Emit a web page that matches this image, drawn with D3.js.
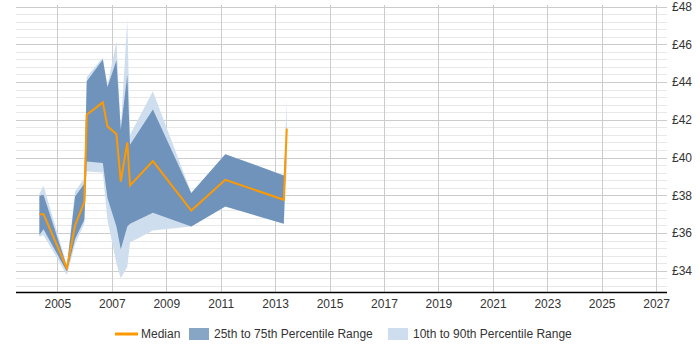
<!DOCTYPE html>
<html lang="en">
<head>
    <meta charset="UTF-8">
    <title>Rate</title>
    <script type="application/javascript" src="https://d3js.org/d3.v7.min.js"></script>
    <style>
        body { margin: 0; }
        text { font-family: "Liberation Sans", Arial, sans-serif; font-size: 12px; fill: #333; }
    </style>
</head>
<body>
<svg width="700" height="350"></svg>
<script type="application/javascript">
    // values (decimal years, pounds)
    var years  = [2004.34, 2004.49, 2005.35, 2005.65, 2005.99, 2006.08, 2006.67, 2006.84, 2007.17, 2007.33, 2007.57, 2007.67, 2008.51, 2009.92, 2011.17, 2013.32, 2013.43];
    var median = [37.0, 37.0, 34.14, 36.4, 37.64, 42.27, 42.92, 41.65, 41.25, 38.73, 40.8, 38.52, 39.81, 37.19, 38.82, 37.76, 41.53];
    var p25    = [35.9, 36.2, 33.96, 35.68, 36.7, 39.79, 39.71, 37.85, 36.34, 35.14, 36.34, 36.49, 37.07, 36.34, 37.41, 36.49, 41.4];
    var p75    = [37.97, 38.03, 34.22, 37.94, 38.61, 44.04, 45.19, 43.74, 45.14, 41.47, 44.4, 40.68, 42.54, 38.12, 40.18, 39.05, 41.7];
    var p10    = [35.8, 35.9, 33.78, 35.4, 36.5, 39.26, 39.21, 36.7, 34.4, 33.6, 34.22, 35.5, 36.13, 36.34, 37.41, 36.49, 39.5];
    var p90    = [38.08, 38.5, 34.3, 38.2, 38.9, 44.27, 45.3, 43.8, 46.16, 41.58, 47.3, 41.2, 43.51, 38.12, 40.18, 39.05, 43.07];

    var xTicks = d3.range(2005, 2028, 2);
    var yTicks = [34, 36, 38, 40, 42, 44, 46, 48];
    var legendLabels = ["Median", "25th to 75th Percentile Range", "10th to 90th Percentile Range"];

    var svg = d3.select("svg");
    var plotLeft = 16, plotRight = 667, plotTop = 6.5, plotBottom = 292.5;

    var data = years.map(function (t, i) {
        return {t: t, med: median[i], lo: p25[i], hi: p75[i], lo2: p10[i], hi2: p90[i]};
    });

    var x = d3.scaleLinear()
        .domain([2003.48, 2027.4])
        .range([plotLeft, plotRight]);
    var y = d3.scaleLinear()
        .domain([32.85, 48])
        .range([plotBottom, plotTop]);

    // minor + major horizontal grid
    var minor = d3.range(33.2, 48.01, 0.4);
    svg.append("g").selectAll("line")
        .data(minor)
        .enter().append("line")
        .attr("x1", plotLeft).attr("x2", plotRight)
        .attr("y1", function (d) { return Math.round(y(d)) + 0.5; })
        .attr("y2", function (d) { return Math.round(y(d)) + 0.5; })
        .attr("stroke", "#e8e8e8");
    svg.append("g").selectAll("line")
        .data(yTicks)
        .enter().append("line")
        .attr("x1", plotLeft).attr("x2", plotRight)
        .attr("y1", function (d) { return Math.round(y(d)) + 0.5; })
        .attr("y2", function (d) { return Math.round(y(d)) + 0.5; })
        .attr("stroke", "#cccccc");
    svg.append("g").selectAll("line")
        .data(xTicks)
        .enter().append("line")
        .attr("x1", function (d) { return Math.round(x(d)) + 0.5; })
        .attr("x2", function (d) { return Math.round(x(d)) + 0.5; })
        .attr("y1", 5).attr("y2", plotBottom)
        .attr("stroke", "#cccccc");

    // bands
    var outer = d3.area()
        .x(function (d) { return x(d.t); })
        .y0(function (d) { return y(d.lo2); })
        .y1(function (d) { return y(d.hi2); });
    var inner = d3.area()
        .x(function (d) { return x(d.t); })
        .y0(function (d) { return y(d.lo); })
        .y1(function (d) { return y(d.hi); });
    var line = d3.line()
        .x(function (d) { return x(d.t); })
        .y(function (d) { return y(d.med); });

    svg.append("path").datum(data).attr("d", outer).attr("fill", "#cfdeee");
    svg.append("path").datum(data).attr("d", inner).attr("fill", "#6f93bb");
    svg.append("path").datum(data).attr("d", line)
        .attr("fill", "none")
        .attr("stroke", "#ff9900")
        .attr("stroke-width", 2);

    // x axis
    var xAxis = svg.append("g")
        .attr("transform", "translate(0," + plotBottom + ")")
        .call(d3.axisBottom(x).tickValues(xTicks).tickFormat(d3.format("d")).tickSize(0).tickPadding(7));
    xAxis.select(".domain").attr("stroke", "#000").attr("stroke-width", 1.5)
        .attr("d", "M" + plotLeft + ",0H" + plotRight);
    xAxis.selectAll("text").style("font-size", "12px").attr("fill", "#333");

    // y axis on the right
    var yAxis = svg.append("g")
        .attr("transform", "translate(" + plotRight + ",0)")
        .call(d3.axisRight(y).tickValues(yTicks).tickFormat(function (d) { return "£" + d; }).tickSize(0).tickPadding(5));
    yAxis.select(".domain").remove();
    yAxis.selectAll("text").style("font-size", "12px").attr("fill", "#333");

    // legend
    var lg = svg.append("g").attr("transform", "translate(0,334)");
    lg.append("line").attr("x1", 115).attr("x2", 138).attr("y1", 0).attr("y2", 0)
        .attr("stroke", "#ff9900").attr("stroke-width", 3);
    lg.append("text").attr("x", 141).attr("y", 4).text(legendLabels[0]);
    lg.append("rect").attr("x", 189).attr("y", -6).attr("width", 20).attr("height", 12).attr("fill", "#87a5c5");
    lg.append("text").attr("x", 214).attr("y", 4).text(legendLabels[1]);
    lg.append("rect").attr("x", 388).attr("y", -6).attr("width", 20).attr("height", 12).attr("fill", "#cfdeee");
    lg.append("text").attr("x", 413).attr("y", 4).text(legendLabels[2]);
</script>
</body>
</html>
